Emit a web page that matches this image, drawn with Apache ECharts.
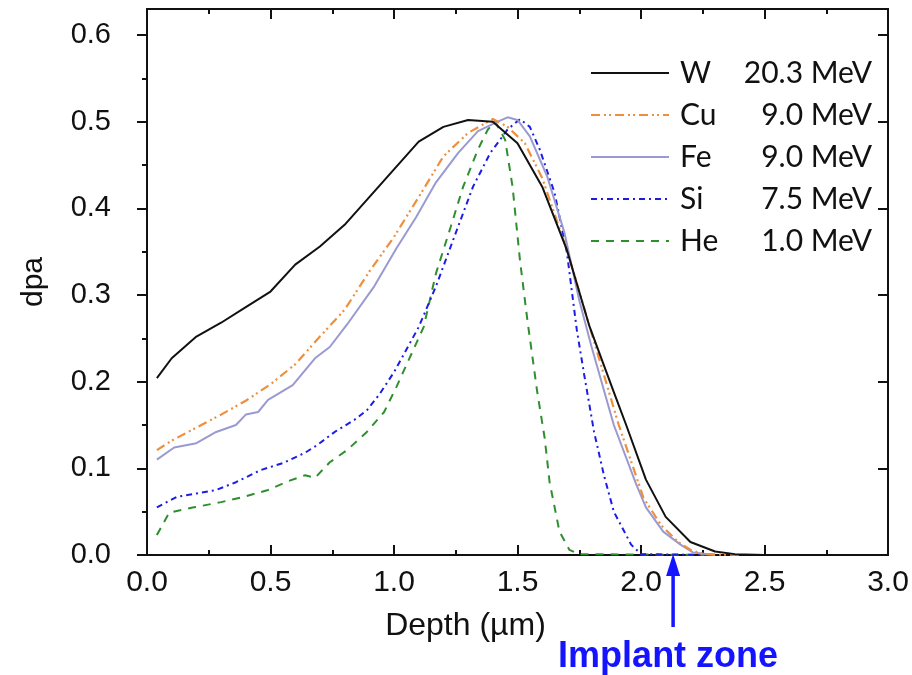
<!DOCTYPE html>
<html>
<head>
<meta charset="utf-8">
<script src="https://cdn.jsdelivr.net/npm/echarts@6/dist/echarts.min.js"></script>
<style>
  html, body { margin: 0; padding: 0; background: #fff; }
  #chart { width: 912px; height: 675px; }
</style>
</head>
<body>
<div id="chart"></div>
<script>
/* dpa vs depth for five ion beams */
const W_DPA = [[0.04,0.204],[0.1,0.227],[0.2,0.252],[0.3,0.268],[0.4,0.286],[0.5,0.304],[0.6,0.335],[0.7,0.356],[0.8,0.381],[0.9,0.413],[1.0,0.445],[1.1,0.477],[1.2,0.494],[1.3,0.502],[1.4,0.5],[1.5,0.475],[1.6,0.425],[1.7,0.352],[1.79,0.265],[1.89,0.188],[1.94,0.15],[2.02,0.087],[2.1,0.044],[2.2,0.015],[2.3,0.004],[2.38,0.001],[2.5,0],[3.0,0]];
const CU_DPA = [[0.04,0.121],[0.1,0.132],[0.2,0.147],[0.3,0.162],[0.4,0.178],[0.5,0.197],[0.6,0.22],[0.7,0.252],[0.8,0.283],[0.9,0.327],[1.0,0.367],[1.1,0.413],[1.2,0.46],[1.3,0.487],[1.4,0.503],[1.46,0.494],[1.53,0.475],[1.6,0.435],[1.7,0.352],[1.78,0.275],[1.91,0.15],[2.01,0.066],[2.08,0.035],[2.15,0.015],[2.2,0.006],[2.25,0.001],[2.4,0]];
const FE_DPA = [[0.04,0.11],[0.11,0.124],[0.2,0.129],[0.28,0.142],[0.36,0.15],[0.4,0.162],[0.45,0.165],[0.49,0.179],[0.59,0.196],[0.68,0.227],[0.74,0.24],[0.81,0.266],[0.92,0.31],[1.01,0.354],[1.09,0.39],[1.17,0.43],[1.26,0.464],[1.34,0.489],[1.42,0.5],[1.46,0.505],[1.5,0.502],[1.55,0.483],[1.62,0.437],[1.69,0.372],[1.75,0.294],[1.8,0.24],[1.89,0.15],[1.98,0.082],[2.02,0.055],[2.09,0.027],[2.16,0.012],[2.21,0.003],[2.3,0]];
const SI_DPA = [[0.04,0.055],[0.12,0.067],[0.2,0.071],[0.28,0.075],[0.36,0.084],[0.46,0.098],[0.55,0.106],[0.64,0.118],[0.69,0.127],[0.76,0.142],[0.84,0.156],[0.89,0.167],[0.94,0.185],[1.0,0.211],[1.1,0.263],[1.17,0.31],[1.24,0.364],[1.32,0.425],[1.39,0.464],[1.46,0.491],[1.51,0.503],[1.55,0.494],[1.59,0.468],[1.65,0.418],[1.7,0.349],[1.74,0.26],[1.77,0.208],[1.81,0.142],[1.85,0.092],[1.89,0.05],[1.96,0.012],[2.0,0.001],[2.3,0]];
const HE_DPA = [[0.04,0.023],[0.09,0.049],[0.19,0.055],[0.3,0.061],[0.39,0.067],[0.49,0.075],[0.57,0.085],[0.64,0.092],[0.68,0.089],[0.74,0.107],[0.81,0.121],[0.89,0.142],[0.96,0.165],[1.01,0.194],[1.12,0.263],[1.17,0.325],[1.23,0.379],[1.28,0.425],[1.34,0.468],[1.38,0.491],[1.41,0.5],[1.45,0.479],[1.48,0.425],[1.51,0.34],[1.54,0.271],[1.58,0.188],[1.61,0.135],[1.63,0.084],[1.67,0.027],[1.71,0.006],[1.75,0.001],[2.3,0]];

const IONS = ['W', 'Cu', 'Fe', 'Si', 'He'];
const ENERGIES = ['20.3 MeV', '9.0 MeV', '9.0 MeV', '7.5 MeV', '1.0 MeV'];
const Y_MAJOR = [0, 0.1, 0.2, 0.3, 0.4, 0.5, 0.6];
const Y_MINOR = [0.05, 0.15, 0.25, 0.35, 0.45, 0.55];
const IMPLANT_DEPTH = 2.13;

const FONT = '"Liberation Sans", Arial, sans-serif';
const LEG_FONT = 'Lato, ' + FONT;
const INK = '#111';

const energyOf = {};
IONS.forEach((n, i) => { energyOf[n] = ENERGIES[i]; });

// 轴：左边刻度朝外，其余三边朝内
const yAx = (pos, values, len, inside, extra) => Object.assign({
  type: 'value', min: 0, max: 0.63, position: pos,
  axisLine: { show: false },
  axisTick: { show: true, inside, length: len, customValues: values, lineStyle: { color: INK, width: 2 } },
  axisLabel: { show: false },
  splitLine: { show: false }
}, extra || {});

const xAx = (pos, extra) => Object.assign({
  type: 'value', min: 0, max: 3, interval: 0.5, position: pos,
  axisLine: { show: true, onZero: false, lineStyle: { color: INK, width: 2 } },
  axisTick: { show: true, inside: true, length: 10, lineStyle: { color: INK, width: 2 } },
  minorTick: { show: true, splitNumber: 2, length: 5, lineStyle: { color: INK, width: 2 } },
  axisLabel: { show: false },
  splitLine: { show: false }
}, extra || {});

const line = (name, data, color, type, width) => ({
  name, type: 'line', data, symbol: 'none', smooth: false,
  xAxisIndex: 0, yAxisIndex: 0,
  lineStyle: { color, type, width },
  itemStyle: { color }
});

const chart = echarts.init(document.getElementById('chart'), null, { renderer: 'canvas' });

chart.setOption({
  animation: false,
  backgroundColor: '#fff',
  grid: { left: 147, right: 24, top: 9, bottom: 120, show: true, borderColor: INK, borderWidth: 2 },
  xAxis: [
    xAx('bottom', {
      axisLabel: { show: true, formatter: (v) => v.toFixed(1), margin: 13, fontSize: 30, color: INK, fontFamily: FONT },
      name: 'Depth (\u00b5m)', nameLocation: 'middle', nameGap: 55,
      nameTextStyle: { fontSize: 32, color: INK, fontFamily: FONT, padding: [0, 104, 0, 0] }
    }),
    xAx('top')
  ],
  yAxis: [
    yAx('left', Y_MAJOR, 10, false, {
      axisLine: { show: true, onZero: false, lineStyle: { color: INK, width: 2 } },
      axisLabel: { show: true, customValues: Y_MAJOR, formatter: (v) => v.toFixed(1), margin: 36, fontSize: 29, color: INK, fontFamily: FONT },
      name: 'dpa', nameLocation: 'middle', nameGap: 98,
      nameTextStyle: { fontSize: 30, color: INK, fontFamily: FONT }
    }),
    yAx('left', Y_MINOR, 5, false),
    yAx('right', Y_MAJOR, 10, true, { axisLine: { show: true, onZero: false, lineStyle: { color: INK, width: 2 } } }),
    yAx('right', Y_MINOR, 5, true)
  ],
  legend: {
    orient: 'vertical', right: 40, top: 58, padding: 0,
    itemWidth: 78, itemHeight: 14, itemGap: 12,
    itemStyle: { opacity: 0 },
    data: IONS,
    formatter: (n) => `{n|${n}}{e|${energyOf[n]}}`,
    textStyle: {
      color: INK,
      rich: {
        n: { width: 56, fontSize: 30, lineHeight: 32, fontFamily: LEG_FONT, color: INK, padding: [0, 0, 0, 6] },
        e: { width: 136, align: 'right', fontSize: 30, lineHeight: 32, fontFamily: LEG_FONT, color: INK }
      }
    }
  },
  series: [
    line('He', HE_DPA, '#2f8f2f', [8, 7], 2),
    line('Si', SI_DPA, '#1c1ce8', [6, 4, 2, 4], 2),
    line('Fe', FE_DPA, '#9a9ad2', 'solid', 2),
    line('Cu', CU_DPA, '#ef8f3c', [9, 4, 2, 3, 2, 4], 2.2),
    line('W', W_DPA, '#111111', 'solid', 2)
  ]
});

// 标注：Implant zone 箭头，位置从数据坐标换算
const [ax, ay] = chart.convertToPixel({ gridIndex: 0 }, [IMPLANT_DEPTH, 0]);
const BLUE = '#1414ff';
chart.setOption({
  graphic: [
    { type: 'line', shape: { x1: ax, y1: ay + 16, x2: ax, y2: ay + 72 }, style: { stroke: BLUE, lineWidth: 3.5 }, z: 100 },
    { type: 'polygon', shape: { points: [[ax, ay - 1], [ax - 7, ay + 21], [ax + 7, ay + 21]] }, style: { fill: BLUE }, z: 100 },
    { type: 'text', x: ax - 5, y: ay + 84, style: { text: 'Implant zone', fill: BLUE, font: 'bold 36px ' + FONT, textAlign: 'center', textVerticalAlign: 'top' }, z: 100 }
  ]
});
</script>
</body>
</html>
